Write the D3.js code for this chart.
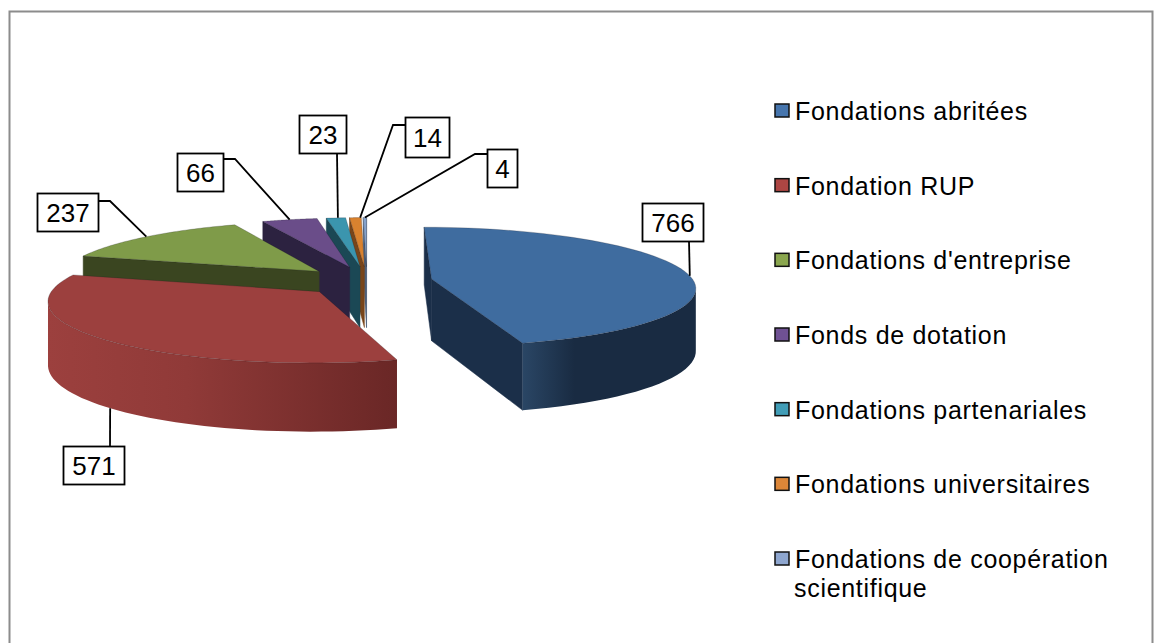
<!DOCTYPE html>
<html>
<head>
<meta charset="utf-8">
<script src="https://cdnjs.cloudflare.com/ajax/libs/d3/7.8.5/d3.min.js"></script>
<style>
  html, body { margin: 0; padding: 0; background: #fff; }
  svg { display: block; }
  text { font-family: "Liberation Sans", Arial, sans-serif; fill: #000; }
</style>
</head>
<body>
<div id="chart"></div>
<script>
const categories = ['Fondations abritées', 'Fondation RUP', "Fondations d'entreprise", 'Fonds de dotation',
  'Fondations partenariales', 'Fondations universitaires', 'Fondations de coopération scientifique'];
const values = [766, 571, 237, 66, 23, 14, 4];

const topColors = ['#3f6c9f', '#9c403e', '#7f9b49', '#6a4d89', '#3b95ae', '#d9822f', '#86a3cc'];
const wallColors = ['#1b2f49', '#4f1f1e', '#3a4520', '#2c2240', '#1b4855', '#78451a', '#4d5f78'];
const frontColors = ['#2a4665', '#9c403e', '#7f9b49', '#6a4d89', '#3b95ae', '#d9822f', '#86a3cc'];
const swatchColors = ['#4675ad', '#ad4643', '#8aa64e', '#6f5193', '#419db7', '#dc8638', '#8ea6cf'];

// where the callout boxes sit, [left, top, right, bottom], same order as values
const labelBoxes = [[642, 203, 703, 241], [63, 446, 124, 484], [37, 193, 98, 231], [177, 153, 223, 191],
  [299, 115, 346, 153], [405, 117, 449, 157], [487, 149, 517, 187]];
// elbow of each leader line, null when the leader is straight
const labelElbows = [null, null, [110, 201], [235, 159], null, [393, 125], [475, 154]];
const leaderStarts = [[689, 241], [110, 446], [98, 201], [223, 159], [337, 153], [405, 125], [487, 154]];
// how far along its slice each leader lands
const leaderFractions = [0.53, 0.486, 0.5, 0.5, 0.6, 0.9, 0.5];

const width = 1161, height = 643;

// pie plane to screen, with a bit of perspective
const cx = 367, cy = 281, radiusX = 262, radiusY = 59, persp = 0.13, explode = 0.25, depth = 62;

function project(px, py, drop) {
  const w = 1 / (1 - persp * py);
  return [cx + radiusX * px * w, cy + radiusY * py * w + (drop ? depth * (1 + 0.6 * (w - 1)) : 0)];
}

const pie = d3.pie().sort(null).value(d => d)(values);

const svg = d3.select('#chart').append('svg')
  .attr('width', width)
  .attr('height', height);

svg.append('path')
  .attr('d', `M9.5,${height}V11.5H1152.5V${height}`)
  .attr('fill', 'none')
  .attr('stroke', '#8c8c8c')
  .attr('stroke-width', 2);

const defs = svg.append('defs');
const line = d3.line();

function drawSlice(s) {
  const i = s.index;
  const g = svg.append('g').attr('class', 'slice');
  const mid = (s.startAngle + s.endAngle) / 2;
  const ox = explode * Math.sin(mid), oy = -explode * Math.cos(mid);

  const rim = d3.range(0, 61).map(k => {
    const a = s.startAngle + (s.endAngle - s.startAngle) * k / 60;
    return [ox + Math.sin(a), oy - Math.cos(a)];
  });
  const apex = [ox, oy];
  const pt = (p, drop) => project(p[0], p[1], drop);

  // the two cut faces, only if they face us
  [[apex, rim[0]], [rim[60], apex]].forEach(e => {
    const poly = [pt(e[0], false), pt(e[1], false), pt(e[1], true), pt(e[0], true)];
    if (d3.polygonArea(poly) < 0) return;
    g.append('path')
      .attr('d', line(poly) + 'Z')
      .attr('fill', wallColors[i])
      .attr('stroke', wallColors[i])
      .attr('stroke-width', 0.5);
  });

  // outer wall, front facing part of the rim
  const front = rim.filter((p, k) => {
    const a = pt(p, false), b = pt(rim[Math.min(k + 1, 60)], false), c = pt(rim[Math.max(k - 1, 0)], false);
    return b[0] < a[0] || c[0] > a[0];
  });
  if (front.length > 1) {
    const xs = front.map(p => pt(p, false)[0]);
    const grad = defs.append('linearGradient')
      .attr('id', 'wall' + i)
      .attr('gradientUnits', 'userSpaceOnUse')
      .attr('x1', d3.min(xs)).attr('x2', d3.max(xs))
      .attr('y1', 0).attr('y2', 0);
    const dark = i === 0 ? '#192b42' : '#6a2726';
    // blue wall is lighter on its left end, red gets darker to the right too
    const stops = i === 0
      ? [[0, frontColors[0]], [0.3, dark], [1, dark]]
      : [[0, frontColors[i]], [0.4, d3.interpolateRgb(frontColors[i], dark)(0.25)], [1, dark]];
    stops.forEach(st => grad.append('stop').attr('offset', st[0]).attr('stop-color', st[1]));
    const poly = front.map(p => pt(p, false)).concat(front.slice().reverse().map(p => pt(p, true)));
    g.append('path')
      .attr('d', line(poly) + 'Z')
      .attr('fill', `url(#wall${i})`);
  }

  // top face
  const topPoly = [apex].concat(rim).map(p => pt(p, false));
  g.append('path')
    .attr('d', line(topPoly) + 'Z')
    .attr('fill', topColors[i])
    .attr('stroke', 'rgba(20,20,30,0.35)')
    .attr('stroke-width', 0.6);
}

// painter's order, small back slices first
pie.slice().reverse().forEach(drawSlice);

// callouts
pie.forEach(s => {
  const i = s.index;
  const mid = (s.startAngle + s.endAngle) / 2;
  const a = s.startAngle + (s.endAngle - s.startAngle) * leaderFractions[i];
  const ox = explode * Math.sin(mid), oy = -explode * Math.cos(mid);
  const anchor = project(ox + Math.sin(a), oy - Math.cos(a), i === 1);
  const pts = [leaderStarts[i]];
  if (labelElbows[i]) pts.push(labelElbows[i]);
  pts.push(anchor);
  svg.append('path')
    .attr('d', line(pts))
    .attr('fill', 'none')
    .attr('stroke', '#000')
    .attr('stroke-width', 1.8);
  const b = labelBoxes[i];
  svg.append('rect')
    .attr('x', b[0] + 0.5).attr('y', b[1] + 0.5)
    .attr('width', b[2] - b[0]).attr('height', b[3] - b[1])
    .attr('fill', '#fff')
    .attr('stroke', '#000')
    .attr('stroke-width', 1.8);
  svg.append('text')
    .attr('x', (b[0] + b[2]) / 2 + 0.5)
    .attr('y', (b[1] + b[3]) / 2 + 10)
    .attr('text-anchor', 'middle')
    .attr('font-size', 26)
    .text(values[i]);
});

// legend
const legendY = d3.scalePoint().domain(categories).range([111, 559]);
const legend = svg.append('g').selectAll('g')
  .data(categories)
  .join('g')
  .attr('transform', d => `translate(0,${legendY(d)})`);

legend.append('rect')
  .attr('x', 775).attr('y', -7)
  .attr('width', 14).attr('height', 13)
  .attr('fill', (d, i) => swatchColors[i])
  .attr('stroke', '#111')
  .attr('stroke-width', 1.5);

legend.append('text')
  .attr('x', 795)
  .attr('y', 9)
  .attr('font-size', 25)
  .attr('letter-spacing', 0.7)
  .each(function (d) {
    const el = d3.select(this);
    if (d.length > 30) {
      el.append('tspan').attr('x', 795).text('Fondations de coopération');
      el.append('tspan').attr('x', 794).attr('dy', 29).text('scientifique');
    } else {
      el.text(d);
    }
  });
</script>
</body>
</html>
